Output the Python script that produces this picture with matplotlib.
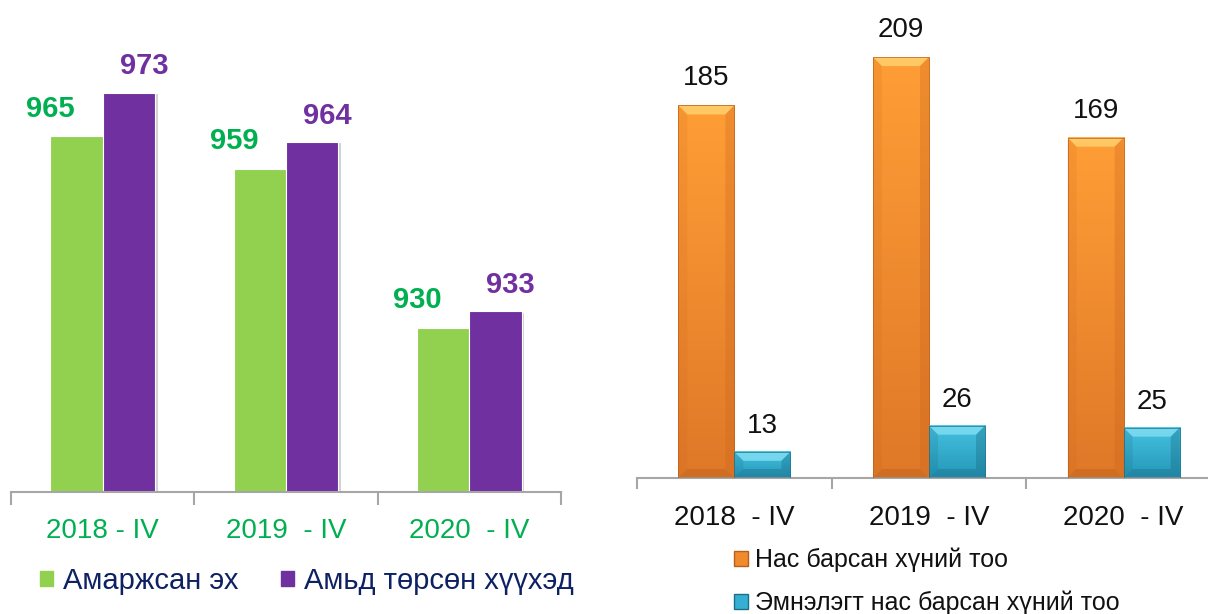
import numpy as np
from matplotlib import pyplot as plt
from matplotlib import colors
from matplotlib.patches import Patch, Polygon
import matplotlib.patheffects as pe
from matplotlib import font_manager

# ---- data ----
periods_left = ['2018 - IV', '2019  - IV', '2020  - IV']
mothers = [965, 959, 930]
babies = [973, 964, 933]
left_names = ['Амаржсан эх', 'Амьд төрсөн хүүхэд']

periods_right = ['2018  - IV', '2019  - IV', '2020  - IV']
deaths = [185, 209, 169]
hospital_deaths = [13, 26, 25]
right_names = ['Нас барсан хүний тоо', 'Эмнэлэгт нас барсан хүний тоо']

GREEN = '#92D050'
GREEN_TXT = '#00B050'
PURPLE = '#7030A0'
NAVY = '#0E2163'
AXIS_GREY = '#A6A6A6'

names = {f.name for f in font_manager.fontManager.ttflist}
NARROW = ['Liberation Sans Narrow', 'Liberation Sans'] if 'Liberation Sans Narrow' in names else ['Liberation Sans']
plt.rcParams['font.family'] = ['Liberation Sans', 'DejaVu Sans']

W, H = 1208, 614
fig = plt.figure(figsize=(W / 100, H / 100), dpi=100)


def px_axes(x0, x1, y_base, y_top=0):
    # axes placed by pixel coords (y measured from top of the image)
    return fig.add_axes([x0 / W, (H - y_base) / H, (x1 - x0) / W, (y_base - y_top) / H])


def style_axis(ax, tick_len, label_color, label_font, label_size, pad):
    for s in ['top', 'left', 'right']:
        ax.spines[s].set_visible(False)
    ax.spines['bottom'].set_color(AXIS_GREY)
    ax.spines['bottom'].set_linewidth(1.5)
    ax.set_yticks([])
    ax.set_xticks([0, 1, 2])
    ax.set_xticks([-0.5, 0.5, 1.5, 2.5], minor=True)
    ax.tick_params(axis='x', which='major', length=0, pad=pad)
    ax.tick_params(axis='x', which='minor', length=tick_len, width=1.5, color=AXIS_GREY, direction='out')
    for t in ax.get_xticklabels():
        t.set_color(label_color)
        t.set_family(label_font)
        t.set_fontsize(label_size)


# ---------------- left chart ----------------
axL = px_axes(11, 561, 492)
bw = 0.285
shadow = [pe.SimplePatchShadow(offset=(2, -1), shadow_rgbFace='#808080', alpha=0.35), pe.Normal()]
x = np.arange(len(periods_left))
axL.bar(x - bw / 2, np.array(mothers) - 900, bw, bottom=900, color=GREEN,
        edgecolor='white', linewidth=0.8, path_effects=shadow, zorder=2)
axL.bar(x + bw / 2, np.array(babies) - 900, bw, bottom=900, color=PURPLE,
        edgecolor='white', linewidth=0.8, path_effects=shadow, zorder=2)
for i in range(len(x)):
    axL.text(x[i] - bw / 2 - 0.142, mothers[i] + 5.1, str(mothers[i]), ha='center', va='center',
             color=GREEN_TXT, fontsize=21, fontweight='bold')
    axL.text(x[i] + bw / 2 + 0.082, babies[i] + 4.8, str(babies[i]), ha='center', va='center',
             color=PURPLE, fontsize=21, fontweight='bold')
axL.set_xlim(-0.5, 2.5)
axL.set_ylim(900, 900 + 492 / 5.47)
axL.set_xticklabels(periods_left)
style_axis(axL, 9, GREEN_TXT, ['Liberation Sans'], 20, 18.5)

legL = fig.legend(handles=[Patch(color=GREEN), Patch(color=PURPLE)], labels=left_names,
                  loc='center left', bbox_to_anchor=(40 / W, (H - 581) / H), ncol=2,
                  frameon=False, fontsize=21, handlelength=0.45, handleheight=0.45,
                  handletextpad=0.35, columnspacing=1.45, borderpad=0, borderaxespad=0)
for t in legL.get_texts():
    t.set_color(NAVY)

# ---------------- right chart ----------------
axR = px_axes(637, 1221, 478)
px_x = 194.5           # pixels per category
px_y = 2.014           # pixels per unit
bw2 = 0.288


def bevel_bar(ax, xc, w, h, top_c, bot_c, light, dark, side):
    x0, x1 = xc - w / 2, xc + w / 2
    cm = colors.LinearSegmentedColormap.from_list('g', [bot_c, top_c])
    grad = np.linspace(0, 1, 128).reshape(-1, 1)
    ax.imshow(grad, extent=(x0, x1, 0, h), origin='lower', cmap=cm, aspect='auto', zorder=2)
    bx = 9 / px_x
    by = min(9 / px_y, h * 0.35)
    ax.add_patch(Polygon([(x0, h), (x1, h), (x1 - bx, h - by), (x0 + bx, h - by)],
                         closed=True, color=light, alpha=0.85, lw=0, zorder=3))
    ax.add_patch(Polygon([(x0, 0), (x1, 0), (x1 - bx, by), (x0 + bx, by)],
                         closed=True, color=dark, alpha=0.4, lw=0, zorder=3))
    ax.add_patch(Polygon([(x0, 0), (x0, h), (x0 + bx, h - by), (x0 + bx, by)],
                         closed=True, color=side, alpha=0.15, lw=0, zorder=3))
    ax.add_patch(Polygon([(x1, 0), (x1, h), (x1 - bx, h - by), (x1 - bx, by)],
                         closed=True, color=side, alpha=0.3, lw=0, zorder=3))
    ax.add_patch(Polygon([(x0, 0), (x0, h), (x1, h), (x1, 0)], closed=True, fill=False,
                         edgecolor=dark, lw=0.7, alpha=0.7, zorder=4))


x2 = np.arange(len(periods_right))
for i in range(len(x2)):
    bevel_bar(axR, x2[i] - bw2 / 2, bw2, deaths[i], '#FF9E36', '#DF7828', '#FFD26E', '#B85E1C', '#C9651E')
    bevel_bar(axR, x2[i] + bw2 / 2, bw2, hospital_deaths[i], '#45C2E0', '#2596B8', '#7FDDF2', '#1C6F88', '#145E74')
    axR.text(x2[i] - bw2 / 2, deaths[i] + 27 / px_y, str(deaths[i]), ha='center', va='center',
             fontsize=20, family=NARROW, color='#111111')
    axR.text(x2[i] + bw2 / 2, hospital_deaths[i] + 26 / px_y, str(hospital_deaths[i]), ha='center', va='center',
             fontsize=20, family=NARROW, color='#111111')
axR.set_xlim(-0.5, 2.5)
axR.set_ylim(0, 478 / px_y)
axR.set_xticklabels(periods_right)
style_axis(axR, 8, '#111111', NARROW, 20, 19.5)

legR = fig.legend(handles=[Patch(facecolor='#F08A2C', edgecolor='#B85E1C'),
                           Patch(facecolor='#36B0D2', edgecolor='#1C6F88')],
                  labels=right_names, loc='upper left', bbox_to_anchor=(734 / W, (H - 548) / H),
                  ncol=1, frameon=False, handlelength=0.55, handleheight=0.55,
                  handletextpad=0.3, labelspacing=0.72, borderpad=0, borderaxespad=0,
                  prop={'family': NARROW, 'size': 18})
for t in legR.get_texts():
    t.set_color('#111111')

fig.savefig('out.png', dpi=100)
